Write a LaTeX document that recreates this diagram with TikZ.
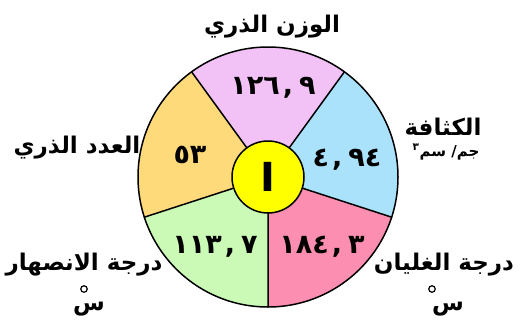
\documentclass[tikz,border=0pt]{standalone}
\usepackage{fontspec}
\newfontfamily\arabicfont[Script=Arabic]{DejaVu Sans}
\newfontfamily\latinbold{DejaVu Sans}
\TeXXeTstate=1
\definecolor{wtpink}{RGB}{242,194,246}
\definecolor{densblue}{RGB}{170,226,252}
\definecolor{boilrose}{RGB}{252,142,178}
\definecolor{meltgreen}{RGB}{202,250,182}
\definecolor{numorange}{RGB}{255,218,122}
\definecolor{symyellow}{RGB}{255,255,0}
\newcommand{\deccomma}{\hspace{0.12em},\hspace{0.22em}}
\begin{document}
\begin{tikzpicture}[x=1pt,y=1pt,
    label/.style={font=\arabicfont\bfseries\fontsize{23}{26}\selectfont,inner sep=0pt},
    unit/.style={font=\arabicfont\bfseries\fontsize{15}{18}\selectfont,inner sep=0pt},
    degring/.style={circle,draw,line width=1.2pt,minimum size=6.5pt,inner sep=0pt},
    value/.style={font=\arabicfont\bfseries\fontsize{27}{30}\selectfont,inner sep=0pt}]
    \useasboundingbox (0,0) rectangle (522,325);
    \coordinate (c) at (268,148);

    % sectors of the disc
    \fill[wtpink] (c) -- ++(54:130) arc[start angle=54,end angle=126,radius=130] -- cycle;
    \fill[densblue] (c) -- ++(-18:130) arc[start angle=-18,end angle=54,radius=130] -- cycle;
    \fill[boilrose] (c) -- ++(-90:130) arc[start angle=-90,end angle=-18,radius=130] -- cycle;
    \fill[meltgreen] (c) -- ++(198:130) arc[start angle=198,end angle=270,radius=130] -- cycle;
    \fill[numorange] (c) -- ++(126:130) arc[start angle=126,end angle=198,radius=130] -- cycle;
    \draw[line width=1.5pt] (c) -- ++(54:130) (c) -- ++(126:130) (c) -- ++(198:130)
        (c) -- ++(270:130) (c) -- ++(-18:130);
    \draw[line width=1.5pt] (c) circle (130);

    \node[circle,draw,line width=1.5pt,fill=symyellow,minimum size=72pt,inner sep=0pt,
        font=\latinbold\bfseries\fontsize{40}{44}\selectfont] (sym) at (c) {I};

    % values
    \node[value] (wt) at (273,237) {١٢٦\deccomma٩};
    \node[value] (dens) at (347,165) {٤\deccomma٩٤};
    \node[value] (boil) at (322,78) {١٨٤\deccomma٣};
    \node[value] (melt) at (215,78) {١١٣\deccomma٧};
    \node[value] (num) at (190,170) {٥٣};

    % captions
    \node[label] (wtlab) at (272,298) {\beginR الوزن الذري\endR};
    \node[label] (denslab) at (443,198) {\beginR الكثافة\endR};
    \node[unit] (densunit) at (446,173) {\textsuperscript{٣}سم\ \mbox{/}\mbox{جم}};
    \node[label] (numlab) at (77,177) {\beginR العدد الذري\endR};
    \node[label] (meltlab) at (84,60) {\beginR درجة الانصهار\endR};
    \node[label] (meltunit) at (89,16) {س};
    \node[degring] (meltdeg) at (84,36) {};
    \node[label] (boillab) at (444,60) {\beginR درجة الغليان\endR};
    \node[label] (boilunit) at (448,16) {س};
    \node[degring] (boildeg) at (432,36) {};
\end{tikzpicture}
\end{document}
